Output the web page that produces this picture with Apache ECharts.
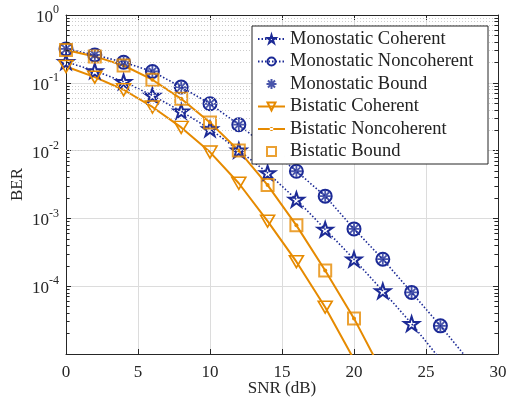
<!DOCTYPE html>
<html>
<head>
<meta charset="utf-8">
<script src="https://cdn.jsdelivr.net/npm/echarts@6/dist/echarts.min.js"></script>
<style>
  html, body { margin: 0; padding: 0; background: #fff; }
  #main { width: 508px; height: 400px; }
</style>
</head>
<body>
<div id="main"></div>
<script>
// SNR points (dB); the last entries lie below the plotted range and only extend the lines
var snr = [0, 2, 4, 6, 8, 10, 12, 14, 16, 18, 20, 22, 24, 26, 28];

var monoCoherent    = [0.204, 0.150, 0.104, 0.065, 0.038, 0.0208, 0.0101, 0.0047, 0.0019, 6.9e-4, 2.5e-4, 8.5e-5, 2.8e-5, 8.3e-6, null];
var monoNoncoherent = [0.316, 0.258, 0.201, 0.147, 0.0865, 0.049, 0.0241, 0.011, 0.00496, 0.00213, 7.0e-4, 2.5e-4, 8.1e-5, 2.6e-5, 7.9e-6];
var monoBound       = [0.316, 0.258, 0.201, 0.147, 0.0865, 0.049, 0.0241, 0.011, 0.00496, 0.00213, 7.0e-4, 2.5e-4, 8.1e-5, 2.6e-5, null];
var biCoherent      = [0.174, 0.121, 0.079, 0.044, 0.022, 0.0095, 0.0033, 9.1e-4, 2.3e-4, 4.9e-5, 8.3e-6, null, null, null, null];
var biNoncoherent   = [0.305, 0.245, 0.180, 0.111, 0.058, 0.026, 0.0100, 0.0031, 7.9e-4, 1.7e-4, 3.35e-5, 5.2e-6, null, null, null];
var biBound         = [0.305, 0.245, 0.180, 0.111, 0.058, 0.026, 0.0100, 0.0031, 7.9e-4, 1.7e-4, 3.35e-5, null, null, null, null];

var names = ['Monostatic Coherent', 'Monostatic Noncoherent', 'Monostatic Bound',
             'Bistatic Coherent', 'Bistatic Noncoherent', 'Bistatic Bound'];

var xTicks = [0, 5, 10, 15, 20, 25, 30];
var yDecades = [-5, -4, -3, -2, -1, 0];

var blue = '#1c2a96';
var orange = '#e68a00';
var serif = 'Liberation Serif';
var axisColor = '#262626';

var starPath = 'path://M0,-1L0.225,-0.309L0.951,-0.309L0.363,0.118L0.588,0.809L0,0.382L-0.588,0.809L-0.363,0.118L-0.951,-0.309L-0.225,-0.309Z';
var asteriskPath = 'path://M0,-1L0,1M-1,0L1,0M-0.707,-0.707L0.707,0.707M-0.707,0.707L0.707,-0.707';
// legend icons (the tiny corner moves keep the 27x10 box so nothing is stretched)
var dotLineIcon = 'path://M0,0L0.01,0M27,10L26.99,10M0,3.9L27,3.9L27,6.1L0,6.1ZM11.6,5A1.9,1.9 0 1 0 15.4,5A1.9,1.9 0 1 0 11.6,5Z';
var squareIcon = 'path://M0,0L0.01,0M27,10L26.99,10M9,0.6L18,0.6L18,9.4L9,9.4Z';

function pairs(arr) {
    var out = [];
    for (var i = 0; i < snr.length; i++) {
        if (arr[i] != null) out.push([snr[i], arr[i]]);
    }
    return out;
}

// minor grid (2..9 in each decade) and small inside ticks on both y sides
var minorLines = [], minorTicks = [];
for (var d = 0; d < yDecades.length - 1; d++) {
    for (var m = 2; m <= 9; m++) {
        var v = m * Math.pow(10, yDecades[d]);
        minorLines.push({ yAxis: v });
        minorTicks.push([{ coord: [0, v] }, { coord: [0.25, v] }]);
        minorTicks.push([{ coord: [29.75, v] }, { coord: [30, v] }]);
    }
}

var chart = echarts.init(document.getElementById('main'), null, { renderer: 'canvas' });

var option = {
    backgroundColor: '#fff',
    animation: false,
    textStyle: { fontFamily: serif },
    grid: { left: 66, right: 10, top: 15, bottom: 46, outerBoundsMode: 'none', containLabel: false },
    xAxis: [{
        type: 'value', min: xTicks[0], max: xTicks[xTicks.length - 1], interval: 5,
        name: 'SNR (dB)', nameLocation: 'middle', nameGap: 26, nameMoveOverlap: false,
        nameTextStyle: { fontFamily: serif, fontSize: 17, color: axisColor },
        axisLine: { show: true, lineStyle: { color: axisColor, width: 1 } },
        axisTick: { inside: true, length: 5, lineStyle: { color: axisColor } },
        axisLabel: { fontFamily: serif, fontSize: 17, color: axisColor, margin: 10 },
        splitLine: { show: true, lineStyle: { color: '#dcdcdc', width: 1 } }
    }, {
        type: 'value', position: 'top', min: 0, max: 30, interval: 5,
        axisLine: { show: true, onZero: false, lineStyle: { color: axisColor, width: 1 } },
        axisTick: { inside: true, length: 5, lineStyle: { color: axisColor } },
        axisLabel: { show: false }, splitLine: { show: false }
    }],
    yAxis: [{
        type: 'log', logBase: 10, min: 1e-5, max: 1,
        name: 'BER', nameLocation: 'middle', nameGap: 40, nameMoveOverlap: false,
        nameTextStyle: { fontFamily: serif, fontSize: 17, color: axisColor },
        axisLine: { show: true, lineStyle: { color: axisColor, width: 1 } },
        axisTick: { inside: true, length: 5, lineStyle: { color: axisColor } },
        axisLabel: {
            margin: 7,
            formatter: function (val) {
                var e = Math.round(Math.log10(val));
                if (e === yDecades[0]) return '';
                return '{b|10}{s|' + e + '}';
            },
            rich: {
                b: { fontFamily: serif, fontSize: 17, color: axisColor, verticalAlign: 'bottom', lineHeight: 22 },
                s: { fontFamily: serif, fontSize: 12, color: axisColor, verticalAlign: 'top', lineHeight: 22 }
            }
        },
        splitLine: { show: true, lineStyle: { color: '#dcdcdc', width: 1 } }
    }, {
        type: 'log', logBase: 10, min: 1e-5, max: 1, position: 'right',
        axisLine: { show: true, onZero: false, lineStyle: { color: axisColor, width: 1 } },
        axisTick: { inside: true, length: 5, lineStyle: { color: axisColor } },
        axisLabel: { show: false }, splitLine: { show: false }
    }],
    legend: {
        data: [names[0], names[1], { name: names[2], icon: asteriskPath }, names[3],
               { name: names[4], icon: dotLineIcon }, { name: names[5], icon: squareIcon }],
        orient: 'vertical',
        left: 257, top: 29, padding: 0,
        itemWidth: 27, itemHeight: 10, itemGap: 2.5,
        textStyle: { fontFamily: serif, fontSize: 18.5, color: '#222', lineHeight: 20 },
        z: 20
    },
    graphic: [{
        type: 'rect', z: 10,
        shape: { x: 252, y: 26, width: 236, height: 138 },
        style: { fill: '#fff', stroke: axisColor, lineWidth: 1 }
    }],
    series: [{
        name: 'grid-minor', type: 'line', data: [], silent: true, z: 1,
        markLine: {
            silent: true, symbol: 'none', label: { show: false }, animation: false,
            lineStyle: { color: '#cccccc', type: [1, 2], width: 1 },
            data: minorLines
        }
    }, {
        name: 'tick-minor', type: 'line', data: [], silent: true, z: 1,
        markLine: {
            silent: true, symbol: 'none', label: { show: false }, animation: false,
            lineStyle: { color: axisColor, type: 'solid', width: 1 },
            data: minorTicks
        }
    }, {
        name: names[0], type: 'line', data: pairs(monoCoherent), clip: true,
        symbol: starPath, symbolSize: 15, symbolKeepAspect: true,
        lineStyle: { color: blue, width: 1.6, type: [1.5, 2] },
        itemStyle: { color: 'rgba(0,0,0,0)', borderColor: blue, borderWidth: 2 }, z: 3
    }, {
        name: names[1], type: 'line', data: pairs(monoNoncoherent), clip: true,
        symbol: 'circle', symbolSize: 13,
        lineStyle: { color: blue, width: 1.6, type: [1.5, 2] },
        itemStyle: { color: 'rgba(0,0,0,0)', borderColor: blue, borderWidth: 2 }, z: 3
    }, {
        name: names[2], type: 'scatter', data: pairs(monoBound), clip: true,
        symbol: asteriskPath, symbolSize: 11,
        itemStyle: { color: 'rgba(0,0,0,0)', borderColor: blue, borderWidth: 1.8 }, z: 4
    }, {
        name: names[3], type: 'line', data: pairs(biCoherent), clip: true,
        symbol: 'triangle', symbolRotate: 180, symbolSize: [14, 12],
        lineStyle: { color: orange, width: 2 },
        itemStyle: { color: 'rgba(0,0,0,0)', borderColor: orange, borderWidth: 1.6 }, z: 3
    }, {
        name: names[4], type: 'line', data: pairs(biNoncoherent), clip: true,
        symbol: 'circle', symbolSize: 4,
        lineStyle: { color: orange, width: 2 },
        itemStyle: { color: orange }, z: 3
    }, {
        name: names[5], type: 'scatter', data: pairs(biBound), clip: true,
        symbol: 'rect', symbolSize: 12,
        itemStyle: { color: 'rgba(0,0,0,0)', borderColor: orange, borderWidth: 2 }, z: 4
    }]
};

chart.setOption(option);
</script>
</body>
</html>
